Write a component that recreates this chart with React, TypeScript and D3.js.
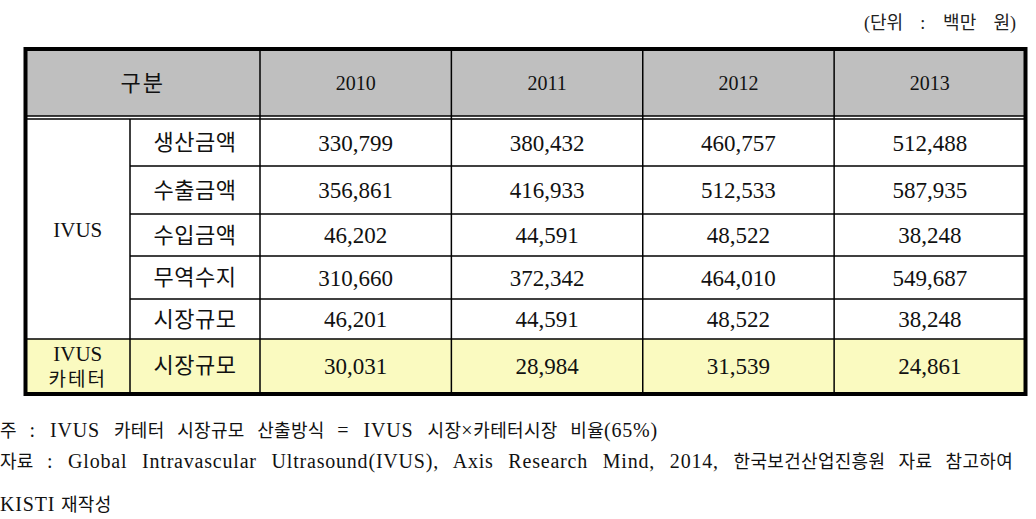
import React, { useLayoutEffect, useRef, useState } from "react";
import * as d3 from "d3";

const years = ["2010", "2011", "2012", "2013"];
const groupLabels = ["IVUS", "IVUS\n카테터"];
const rowLabels = ["생산금액", "수출금액", "수입금액", "무역수지", "시장규모", "시장규모"];
const rowGroup = [0, 0, 0, 0, 0, 1];
const values2010 = ["330,799", "356,861", "46,202", "310,660", "46,201", "30,031"];
const values2011 = ["380,432", "416,933", "44,591", "372,342", "44,591", "28,984"];
const values2012 = ["460,757", "512,533", "48,522", "464,010", "48,522", "31,539"];
const values2013 = ["512,488", "587,935", "38,248", "549,687", "38,248", "24,861"];
const headerLabel = "구분";
const unitLabel = "(단위 : 백만 원)";
const notes = [
  "주 : IVUS 카테터 시장규모 산출방식 = IVUS 시장×카테터시장 비율(65%)",
  "자료 : Global Intravascular Ultrasound(IVUS), Axis Research Mind, 2014, 한국보건산업진흥원 자료 참고하여",
  "KISTI 재작성",
];

const W = 1036;
const H = 519;
const FONT = "'Liberation Serif', 'Noto Sans CJK KR', serif";
const KFONT = "'Noto Sans CJK KR', sans-serif";
const isK = (s: string) => /[가-힣]/.test(s);

function splitRuns(text: string): { s: string; k: boolean }[] {
  const runs: { s: string; k: boolean }[] = [];
  for (const ch of text) {
    const k = isK(ch);
    const last = runs[runs.length - 1];
    if (last && (last.k === k || ch === " ")) last.s += ch;
    else runs.push({ s: ch, k });
  }
  return runs;
}

function JustifiedText(props: {
  x: number; y: number; width: number | null; text: string; fontSize: number; kSize: number;
  ls?: number; kls?: number; fill?: string;
}) {
  const ref = useRef<SVGTextElement>(null);
  const [ws, setWs] = useState(0);
  useLayoutEffect(() => {
    if (!ref.current || props.width == null) return;
    const natural = ref.current.getComputedTextLength();
    const spaces = (props.text.match(/ /g) || []).length;
    if (spaces > 0) setWs(Math.max(0, (props.width - natural) / spaces));
  }, [props.text, props.width]);
  const runs = splitRuns(props.text);
  return (
    <text ref={ref} x={props.x} y={props.y} fill={props.fill || "#111"} style={{ wordSpacing: ws + "px", whiteSpace: "pre" }}>
      {runs.map((r, i) => (
        <tspan
          key={i}
          fontFamily={r.k ? KFONT : FONT}
          fontSize={r.k ? props.kSize : props.fontSize}
          letterSpacing={r.k ? props.kls || 0 : props.ls || 0}
        >
          {r.s}
        </tspan>
      ))}
    </text>
  );
}

export default function App() {
  const left = 25.5;
  const right = 1025.5;
  const top = 49;
  const headerBottom = 116;
  const bodyTop = 119;
  const rowEdges = [119, 166, 214, 256, 299, 339, 392];
  const col1 = 130;
  const col2 = 260;

  const x = d3.scaleBand<string>().domain(years).range([col2, right]);
  const valuesByYear = [values2010, values2011, values2012, values2013];

  const groupSpans: { g: number; y0: number; y1: number }[] = [];
  rowGroup.forEach((g, i) => {
    const last = groupSpans[groupSpans.length - 1];
    if (last && last.g === g) last.y1 = rowEdges[i + 1];
    else groupSpans.push({ g, y0: rowEdges[i], y1: rowEdges[i + 1] });
  });

  const noteY = [437, 468, 511];
  const noteW = [658, 1013, null];

  return (
    <svg width={W} height={H} style={{ position: "absolute", left: 0, top: 0, background: "#fff" }}>
      <JustifiedText x={864} y={29} width={152} text={unitLabel} fontSize={18} kSize={18} fill="#222" />
      <rect x={left} y={top} width={right - left} height={headerBottom - top} fill="#bfbfbf" />
      {rowGroup.map((g, i) =>
        g === 1 ? (
          <rect key={"y" + i} x={left} y={rowEdges[i]} width={right - left} height={rowEdges[i + 1] - rowEdges[i]} fill="#fafac0" />
        ) : null
      )}
      <text x={(left + col2) / 2} y={83} dy="0.35em" textAnchor="middle" fontFamily={KFONT} fontSize={22} letterSpacing={2} fill="#111">
        {headerLabel}
      </text>
      {years.map((yr) => (
        <text key={yr} x={(x(yr) as number) + x.bandwidth() / 2} y={83} dy="0.35em" textAnchor="middle" fontFamily={FONT} fontSize={20} fill="#111">
          {yr}
        </text>
      ))}
      {groupSpans.map((s, i) => {
        const lines = groupLabels[s.g].split("\n");
        const cy = (s.y0 + s.y1) / 2;
        const lh = 26;
        return lines.map((ln, j) => (
          <text
            key={"g" + i + j}
            x={(left + col1) / 2}
            y={cy + 1 + (j - (lines.length - 1) / 2) * lh}
            dy="0.35em"
            textAnchor="middle"
            fontFamily={isK(ln) ? KFONT : FONT}
            fontSize={isK(ln) ? 19 : 21}
            letterSpacing={isK(ln) ? 2 : 0}
            fill="#111"
          >
            {ln}
          </text>
        ));
      })}
      {rowLabels.map((lab, i) => {
        const cy = (rowEdges[i] + rowEdges[i + 1]) / 2;
        return (
          <g key={"r" + i}>
            <text x={(col1 + col2) / 2} y={cy} dy="0.35em" textAnchor="middle" fontFamily={KFONT} fontSize={22} letterSpacing={0.5} fill="#111">
              {lab}
            </text>
            {years.map((yr, k) => (
              <text key={yr} x={(x(yr) as number) + x.bandwidth() / 2} y={cy} dy="0.35em" textAnchor="middle" fontFamily={FONT} fontSize={23} fill="#111">
                {valuesByYear[k][i]}
              </text>
            ))}
          </g>
        );
      })}
      <g stroke="#000" strokeWidth={1.5}>
        <line x1={left} x2={right} y1={headerBottom} y2={headerBottom} />
        <line x1={left} x2={right} y1={bodyTop} y2={bodyTop} />
        {rowEdges.slice(1, -1).map((ry, i) => {
          const fullWidth = rowGroup[i] !== rowGroup[i + 1];
          return <line key={"h" + i} x1={fullWidth ? left : col1} x2={right} y1={ry} y2={ry} />;
        })}
        <line x1={col1} x2={col1} y1={bodyTop} y2={rowEdges[rowEdges.length - 1]} />
        <line x1={col2} x2={col2} y1={top} y2={rowEdges[rowEdges.length - 1]} />
        {years.slice(1).map((yr) => (
          <line key={"v" + yr} x1={x(yr) as number} x2={x(yr) as number} y1={top} y2={rowEdges[rowEdges.length - 1]} />
        ))}
      </g>
      <rect x={left} y={top} width={right - left} height={rowEdges[rowEdges.length - 1] + 2 - top} fill="none" stroke="#000" strokeWidth={4} />
      {notes.map((n, i) => (
        <JustifiedText key={"n" + i} x={0} y={noteY[i]} width={noteW[i]} text={n} fontSize={20} kSize={18} ls={0.8} kls={0.3} />
      ))}
    </svg>
  );
}
